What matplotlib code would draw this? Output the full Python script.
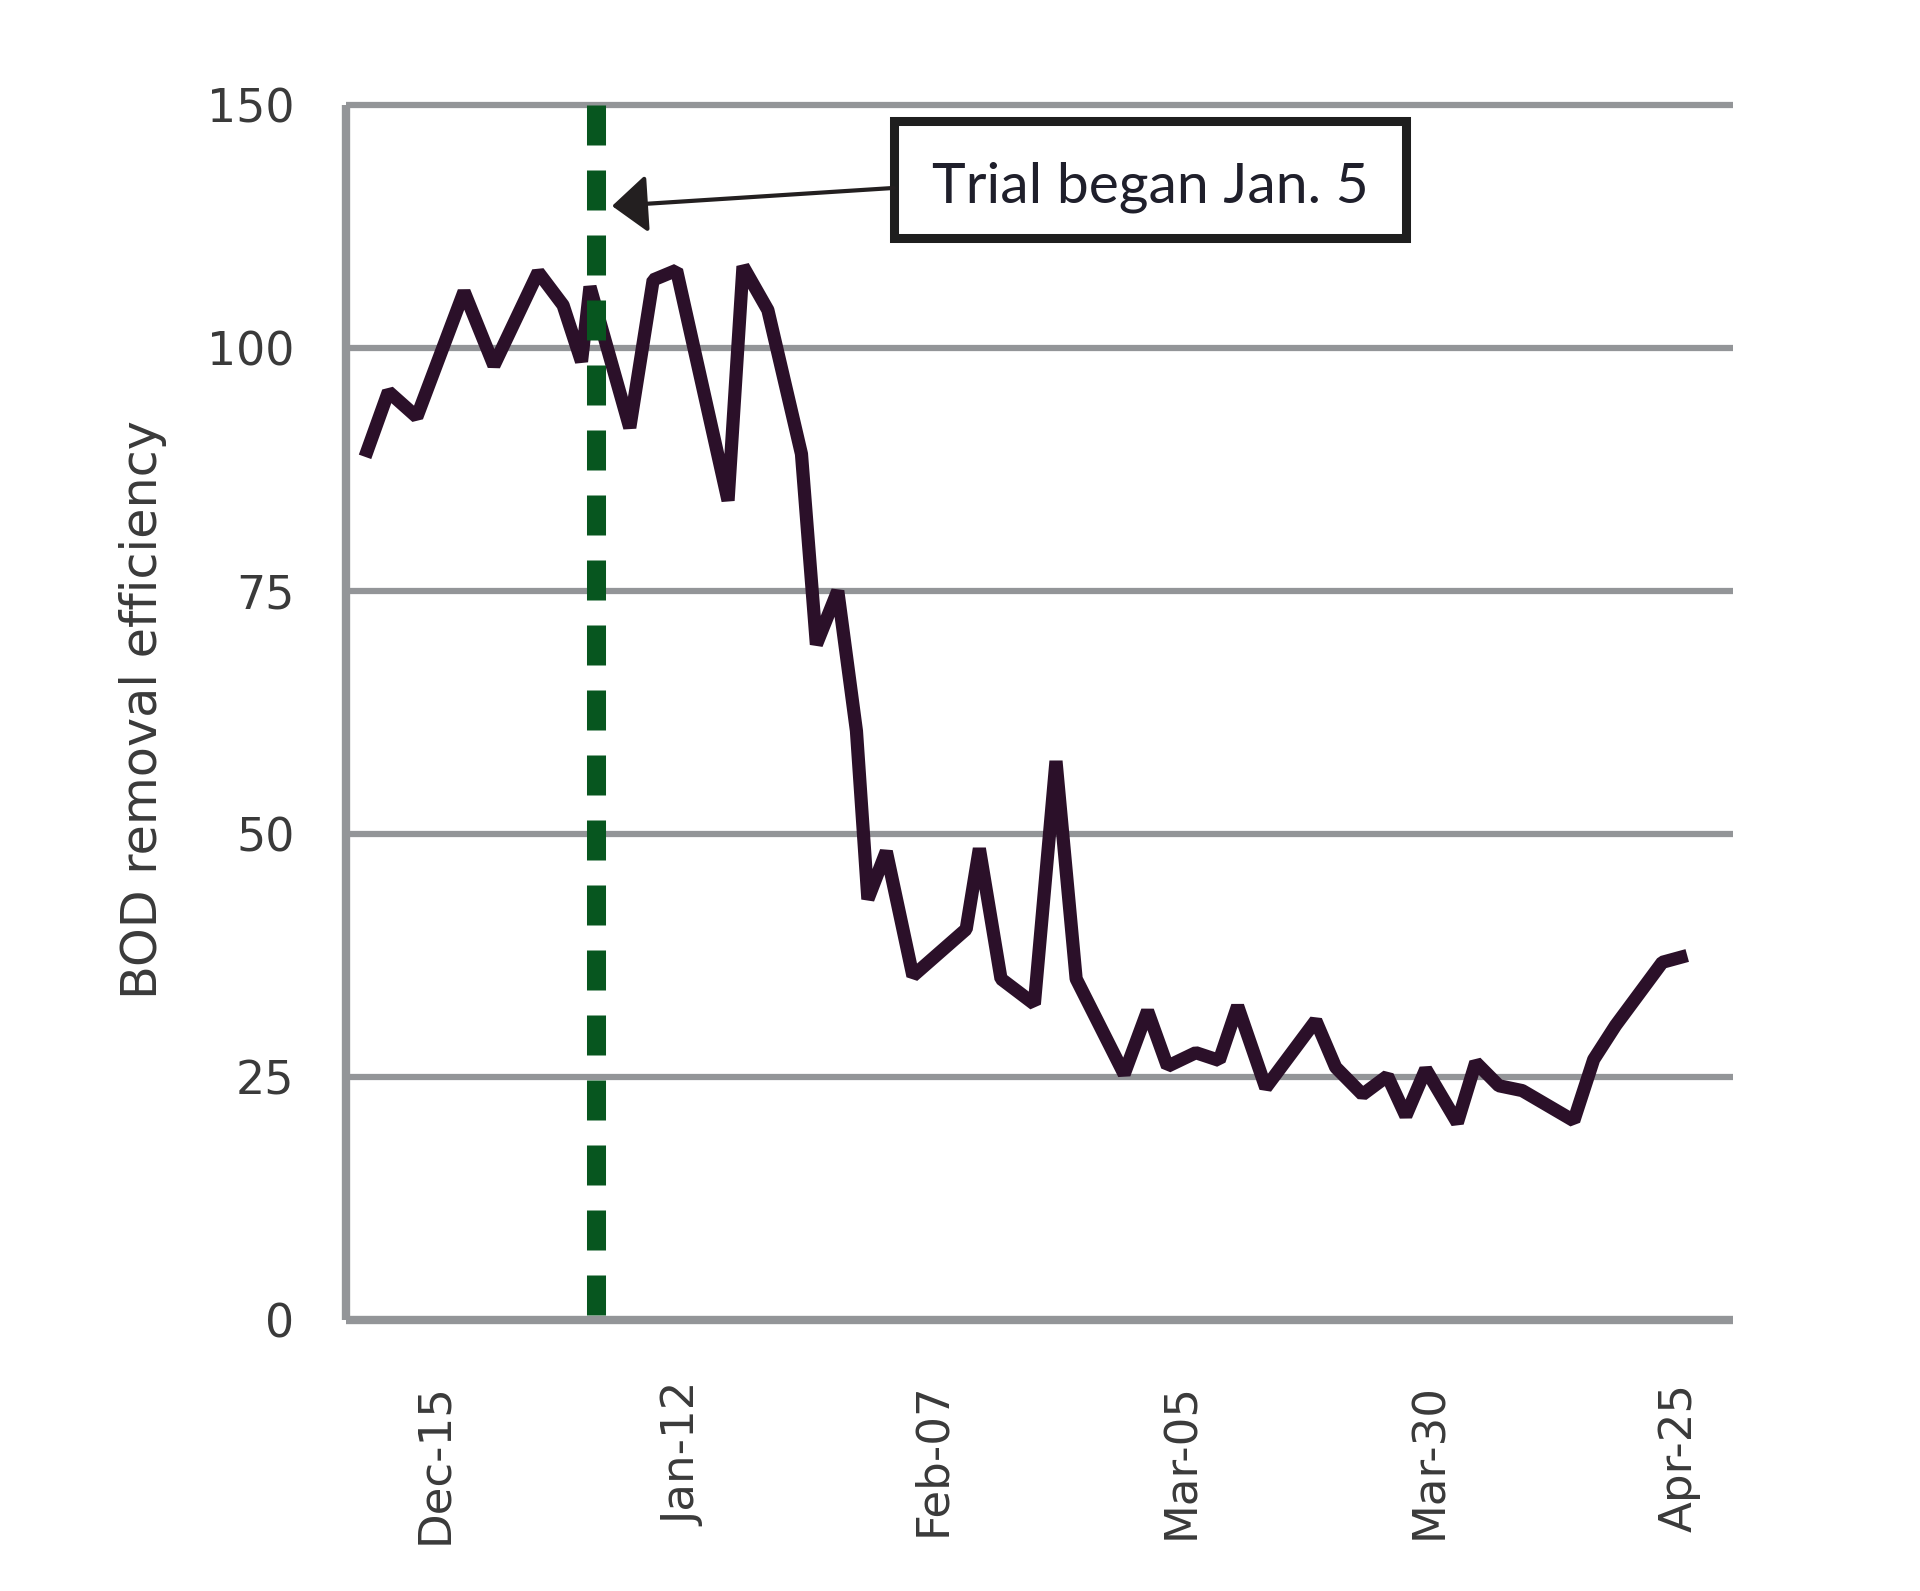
import numpy as np
import matplotlib
matplotlib.use("Agg")
import matplotlib.pyplot as plt
from matplotlib.patches import Rectangle

# ---- data (x in category-position units; labelled dates every 10 positions) ----
sample_pos = [-2.8, -1.86, -0.72, 1.18, 2.38, 4.16, 5.16, 5.9, 6.24, 7.84,
              8.78, 9.72, 11.79, 12.39, 13.39, 14.74, 15.34, 16.2, 16.95, 17.41,
              18.15, 19.22, 21.36, 21.89, 22.76, 24.1, 24.97, 25.78, 27.71, 28.65,
              29.45, 30.59, 31.53, 32.27, 33.4, 35.41, 36.21, 37.29, 38.29, 39.03,
              39.83, 41.1, 41.84, 42.77, 43.71, 45.78, 46.58, 47.46, 49.34, 50.34]
bod_efficiency = [88.8, 95.5, 92.9, 111.6, 98.2, 115.6, 108.8, 98.6, 112.6, 91.8,
                  114.0, 116.0, 84.3, 116.8, 107.8, 89.1, 69.5, 75.0, 60.6, 43.3,
                  48.2, 35.4, 40.2, 48.5, 35.1, 32.5, 57.5, 35.1, 25.3, 31.8,
                  26.1, 27.5, 26.7, 32.3, 23.9, 30.8, 26.0, 23.2, 25.1, 21.0,
                  25.8, 20.3, 26.5, 24.1, 23.6, 20.5, 26.8, 30.3, 36.8, 37.5]
x_tick_pos = [0, 10, 20, 30, 40, 50]
x_tick_labels = ["Dec-15", "Jan-12", "Feb-07", "Mar-05", "Mar-30", "Apr-25"]
y_ticks = [0, 25, 50, 75, 100, 150]
trial_start_pos = 6.5
annotation_text = "Trial began Jan. 5"
y_label = "BOD removal efficiency"

GRID = "#939598"
LINE = "#2b1029"
GREEN = "#07561f"
TEXT = "#3a3a3a"

fig = plt.figure(figsize=(19.2, 15.91), dpi=100)
ax = fig.add_axes([0.18021, 0.17033, 0.72240, 0.76675])


def fwd(v):
    v = np.asarray(v, dtype=float)
    return np.where(v <= 100, v, 100 + (v - 100) / 2.0)


def inv(u):
    u = np.asarray(u, dtype=float)
    return np.where(u <= 100, u, 100 + (u - 100) * 2.0)


ax.set_yscale("function", functions=(fwd, inv))
ax.set_ylim(0, 151)
ax.set_xlim(-3.565, 52.18)

ax.set_yticks(y_ticks)
ax.set_yticklabels([str(t) for t in y_ticks])
ax.set_xticks(x_tick_pos)
ax.set_xticklabels(x_tick_labels, rotation=90)
ax.minorticks_off()

ax.tick_params(axis="y", length=0, pad=37, labelsize=33, labelcolor=TEXT)
ax.tick_params(axis="x", length=0, pad=45, labelsize=32.5, labelcolor=TEXT)

ax.yaxis.grid(True, color=GRID, linewidth=4.5)
ax.xaxis.grid(False)
ax.set_axisbelow(True)

for side in ["top", "right"]:
    ax.spines[side].set_visible(False)
ax.spines["left"].set_color(GRID)
ax.spines["left"].set_linewidth(6)
ax.spines["left"].set_bounds(0, 150)
ax.spines["left"].set_capstyle("butt")
ax.spines["bottom"].set_color(GRID)
ax.spines["bottom"].set_linewidth(6)
ax.spines["bottom"].set_capstyle("butt")

ax.set_ylabel(y_label, fontsize=35.5, color=TEXT, va="center")
ax.yaxis.set_label_coords(-0.1464, 0.5)

ax.plot(sample_pos, bod_efficiency, color=LINE, linewidth=9.5,
        solid_joinstyle="bevel", solid_capstyle="butt", zorder=3)

ax.plot([trial_start_pos, trial_start_pos], [150, 0], color=GREEN,
        linewidth=13.7, linestyle=(0, (28.8 / 13.7, 18 / 13.7)),
        dash_capstyle="butt", zorder=4)

# annotation box and arrow
box = Rectangle((0.3951, 0.8870), 0.3692, 0.0959, transform=ax.transAxes,
                facecolor="white", edgecolor="#1e1e1e", linewidth=6.5,
                zorder=5, clip_on=False)
ax.add_patch(box)
ax.text(0.5797, 0.916, annotation_text, transform=ax.transAxes,
        ha="center", va="baseline", fontsize=41, family="Lato",
        color="#1f1f2b", zorder=6)
ax.annotate("", xy=(0.1918, 0.9132), xycoords="axes fraction",
            xytext=(0.3951, 0.9280), textcoords="axes fraction",
            arrowprops=dict(arrowstyle="-|>,head_length=1.1,head_width=0.9",
                            mutation_scale=20, color="#231f20", lw=3,
                            shrinkA=0, shrinkB=0),
            zorder=5)

fig.savefig("out.png", dpi=100, facecolor="white")
